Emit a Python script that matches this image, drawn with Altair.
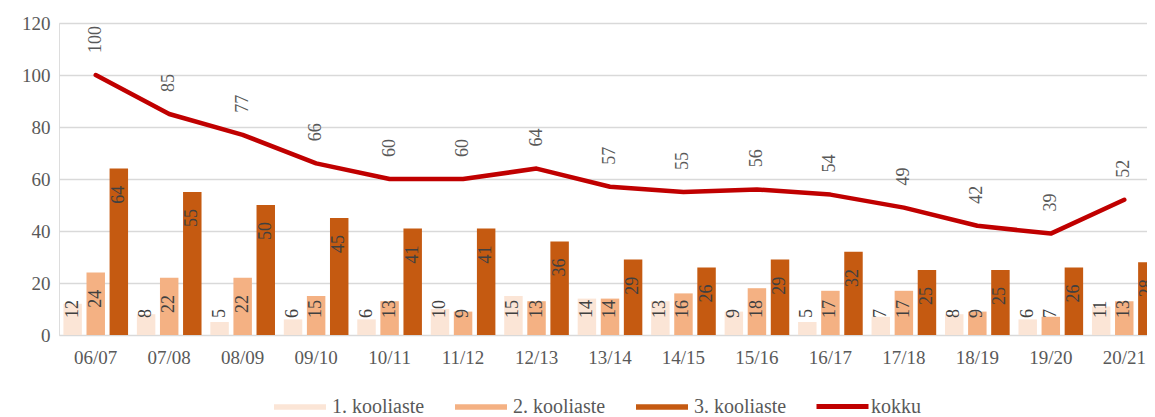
import altair as alt
import pandas as pd

periods = ["06/07", "07/08", "08/09", "09/10", "10/11", "11/12", "12/13", "13/14",
           "14/15", "15/16", "16/17", "17/18", "18/19", "19/20", "20/21"]
series_names = ["1. kooliaste", "2. kooliaste", "3. kooliaste"]
s1 = [12, 8, 5, 6, 6, 10, 15, 14, 13, 9, 5, 7, 8, 6, 11]
s2 = [24, 22, 22, 15, 13, 9, 13, 14, 16, 18, 17, 17, 9, 7, 13]
s3 = [64, 55, 50, 45, 41, 41, 36, 29, 26, 29, 32, 25, 25, 26, 28]
kokku = [100, 85, 77, 66, 60, 60, 64, 57, 55, 56, 54, 49, 42, 39, 52]
bar_colors = ["#FBE5D6", "#F4B183", "#C55A11"]
line_color = "#C00000"

rows = []
for name, vals in zip(series_names, [s1, s2, s3]):
    for p, v in zip(periods, vals):
        rows.append({"period": p, "series": name, "value": v})
bars_df = pd.DataFrame(rows)
line_df = pd.DataFrame({"period": periods, "kokku": kokku, "name": ["kokku"] * len(periods)})

FONT = "Liberation Serif"
GRAY = "#595959"

x_enc = alt.X("period:N", sort=periods,
              scale=alt.Scale(range=[0, 1102], paddingInner=0.12, paddingOuter=0.06),
              axis=alt.Axis(title=None, labelAngle=0, domain=False, ticks=False,
                            labelFont=FONT, labelFontSize=19, labelColor=GRAY,
                            labelPadding=13))
y_scale = alt.Scale(domain=[0, 120], nice=False)
y_axis = alt.Axis(title=None, values=list(range(0, 121, 20)), domain=False, ticks=False,
                  gridColor="#D9D9D9", gridWidth=1.3, labelFont=FONT, labelFontSize=19,
                  labelColor=GRAY, labelPadding=9)
xoff = alt.XOffset("series:N", sort=series_names, scale=alt.Scale(paddingInner=0.2))

rect_path = "M-2.6,-0.27 L2.6,-0.27 L2.6,0.27 L-2.6,0.27 Z"
line_path = "M-2.6,0 L2.6,0"

bars = alt.Chart(bars_df).mark_bar().encode(
    x=x_enc,
    xOffset=xoff,
    y=alt.Y("value:Q", scale=y_scale, axis=y_axis),
    fill=alt.Fill("series:N", sort=series_names,
                  scale=alt.Scale(domain=series_names, range=bar_colors),
                  legend=alt.Legend(title=None, orient="none", direction="horizontal",
                                    legendX=231, legendY=374, symbolType=rect_path,
                                    symbolSize=400, symbolStrokeWidth=0,
                                    labelFont=FONT, labelFontSize=20, labelColor=GRAY,
                                    columnPadding=30, labelOffset=22)),
)

bar_labels = alt.Chart(bars_df).transform_calculate(
    pos="max(datum.value - 13.5, 6.5)"
).mark_text(angle=270, align="left", baseline="middle", font=FONT, fontSize=18,
            color="#404040").encode(
    x=alt.X("period:N", sort=periods),
    xOffset=xoff,
    y=alt.Y("pos:Q", scale=y_scale),
    text=alt.Text("value:Q"),
)

line = alt.Chart(line_df).mark_line(strokeWidth=4.5, strokeCap="round", strokeJoin="round").encode(
    x=alt.X("period:N", sort=periods),
    y=alt.Y("kokku:Q", scale=y_scale),
    stroke=alt.Stroke("name:N", scale=alt.Scale(domain=["kokku"], range=[line_color]),
                      legend=alt.Legend(title=None, orient="none", direction="horizontal",
                                        legendX=771, legendY=371, symbolType=line_path,
                                        symbolSize=400, symbolStrokeWidth=5,
                                        labelFont=FONT, labelFontSize=20, labelColor=GRAY,
                                        labelOffset=16)),
)

line_labels = alt.Chart(line_df).transform_calculate(
    pos="datum.kokku + 8.5"
).mark_text(angle=270, align="left", baseline="middle", font=FONT, fontSize=18,
            color=GRAY).encode(
    x=alt.X("period:N", sort=periods),
    y=alt.Y("pos:Q", scale=y_scale),
    text=alt.Text("kokku:Q"),
)

chart = alt.layer(bars, bar_labels, line, line_labels).properties(
    width=1088, height=312,
    autosize=alt.AutoSizeParams(type="none"),
    padding={"left": 51, "top": 15, "right": 0, "bottom": 82},
).configure_view(stroke=None).configure(background="white")

chart.save("out.html", embed_options={"renderer": "svg", "actions": False})
